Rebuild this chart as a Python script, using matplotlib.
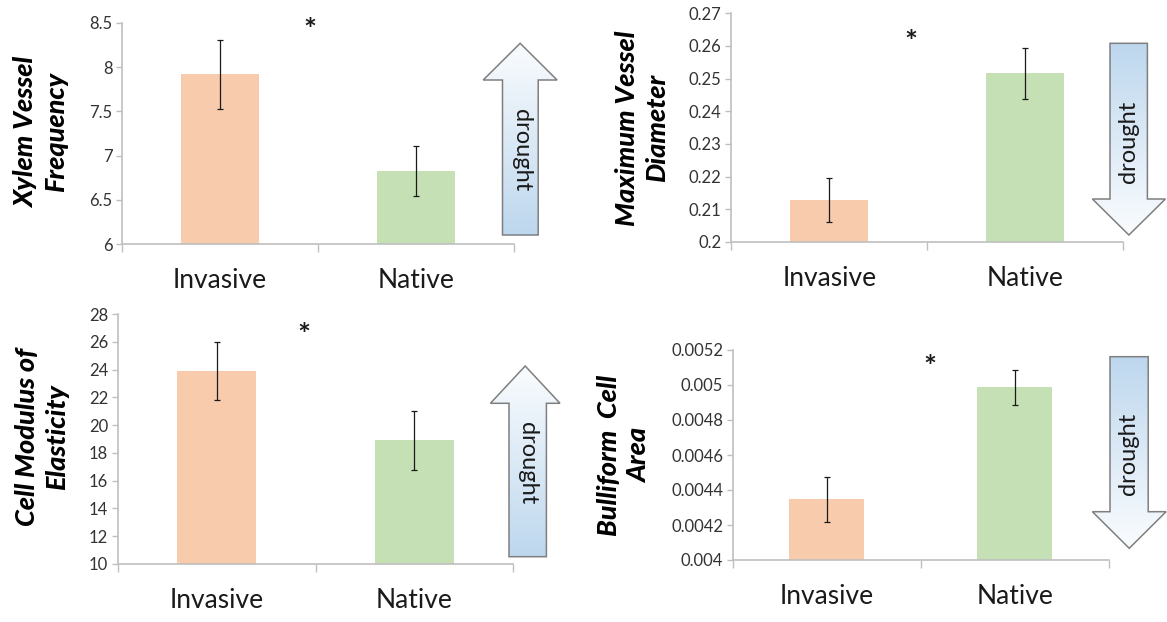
import numpy as np
import matplotlib
matplotlib.use("Agg")
import matplotlib.pyplot as plt
from matplotlib.patches import Polygon
from matplotlib.colors import to_rgb
from matplotlib.transforms import offset_copy

# ---------------- data ----------------
categories = ["Invasive", "Native"]

xylem_freq = [7.92, 6.83]
xylem_freq_err = [0.39, 0.28]
xylem_ticks = [6, 6.5, 7, 7.5, 8, 8.5]
xylem_ticklabels = ["6", "6.5", "7", "7.5", "8", "8.5"]

vessel_diam = [0.2129, 0.2516]
vessel_diam_err = [0.0067, 0.0079]
vessel_ticks = [0.20, 0.21, 0.22, 0.23, 0.24, 0.25, 0.26, 0.27]
vessel_ticklabels = ["0.2", "0.21", "0.22", "0.23", "0.24", "0.25", "0.26", "0.27"]

elastic = [23.9, 18.9]
elastic_err = [2.1, 2.1]
elastic_ticks = [10, 12, 14, 16, 18, 20, 22, 24, 26, 28]
elastic_ticklabels = ["10", "12", "14", "16", "18", "20", "22", "24", "26", "28"]

bulliform = [0.004347, 0.004986]
bulliform_err = [0.000130, 0.000102]
bulliform_ticks = [0.0040, 0.0042, 0.0044, 0.0046, 0.0048, 0.0050, 0.0052]
bulliform_ticklabels = ["0.004", "0.0042", "0.0044", "0.0046", "0.0048", "0.005", "0.0052"]

ylabels = ["Xylem Vessel\nFrequency", "Maximum Vessel\nDiameter",
           "Cell Modulus of\nElasticity", "Bulliform  Cell\nArea"]
arrow_dirs = ["up", "down", "up", "down"]
arrow_text = "drought"

# ---------------- style ----------------
W, H = 1167, 622
FONT = "Lato"
plt.rcParams["font.family"] = [FONT, "DejaVu Sans"]
bar_colors = ["#F8CBAD", "#C5E0B4"]
spine_col = "#BFBFBF"

fig = plt.figure(figsize=(W / 100, H / 100), dpi=100)

def frac(x0, y0, x1, y1):
    return [x0 / W, 1 - y1 / H, (x1 - x0) / W, (y1 - y0) / H]

panels = [
    dict(rect=frac(122.1, 22.7, 514.3, 244.3), vals=xylem_freq, err=xylem_freq_err,
         ticks=xylem_ticks, tl=xylem_ticklabels, star=(0.46, 8.52),
         ylab=(41, 132)),
    dict(rect=frac(731.3, 13.3, 1123.1, 242.0), vals=vessel_diam, err=vessel_diam_err,
         ticks=vessel_ticks, tl=vessel_ticklabels, star=(0.415, 0.2640),
         ylab=(642, 128)),
    dict(rect=frac(117.9, 314.0, 513.2, 564.0), vals=elastic, err=elastic_err,
         ticks=elastic_ticks, tl=elastic_ticklabels, star=(0.44, 27.1),
         ylab=(42, 437)),
    dict(rect=frac(732.8, 350.0, 1108.8, 560.0), vals=bulliform, err=bulliform_err,
         ticks=bulliform_ticks, tl=bulliform_ticklabels, star=(0.546, 0.005150),
         ylab=(624, 455)),
]

for i, p in enumerate(panels):
    ax = fig.add_axes(p["rect"])
    x = np.arange(len(categories))
    ax.bar(x, p["vals"], width=0.4, color=bar_colors, zorder=2)
    ax.errorbar(x, p["vals"], yerr=p["err"], fmt="none", ecolor="#1a1a1a",
                elinewidth=0.9, capsize=2.4, capthick=0.9, zorder=3)
    ax.set_xlim(-0.5, 1.5)
    ax.set_ylim(p["ticks"][0], p["ticks"][-1])
    ax.set_yticks(p["ticks"])
    ax.set_yticklabels(p["tl"], fontsize=12, color="#333333")
    ax.set_xticks(x)
    ax.set_xticklabels(categories, fontsize=19, color="#1a1a1a")
    ax.set_xticks([-0.5, 0.5, 1.5], minor=True)
    ax.tick_params(axis="x", which="major", length=0, pad=17)
    ax.tick_params(axis="x", which="minor", length=6, width=1, color=spine_col, direction="out")
    ax.tick_params(axis="y", which="major", length=4, width=1, color=spine_col, pad=3)
    for s in ["top", "right"]:
        ax.spines[s].set_visible(False)
    for s in ["left", "bottom"]:
        ax.spines[s].set_color(spine_col)
        ax.spines[s].set_linewidth(1.2)
    ax.patch.set_alpha(0)
    star_tr = offset_copy(ax.transData, fig=fig, x=0, y=-7, units="points")
    ax.text(p["star"][0], p["star"][1], "*", fontsize=22, fontweight="bold",
            ha="center", va="center", color="#1a1a1a", clip_on=False, transform=star_tr)

# overlay for arrows and y labels, in pixel coordinates
ov = fig.add_axes([0, 0, 1, 1])
ov.set_xlim(0, W)
ov.set_ylim(H, 0)
ov.axis("off")
ov.patch.set_alpha(0)

for i, p in enumerate(panels):
    ov.text(p["ylab"][0], p["ylab"][1], ylabels[i], rotation=90, ha="center", va="center",
            multialignment="center", fontsize=19.5, fontweight="black", fontstyle="italic",
            color="#000000", linespacing=1.3)

# arrow geometry (pixels): head x0, x1, shaft x0, x1, tip y, head base y, tail y, text center
arrows = [
    dict(hx=(483.2, 557.1), sx=(502.5, 538.2), tip=43.3, base=80.0, tail=235.0, txt=(521, 150)),
    dict(hx=(1092.4, 1165.4), sx=(1110.0, 1147.4), tip=235.0, base=199.0, tail=43.3, txt=(1128.5, 142)),
    dict(hx=(490.4, 560.0), sx=(509.0, 546.4), tip=366.0, base=403.3, tail=556.7, txt=(527.5, 463)),
    dict(hx=(1092.4, 1166.1), sx=(1110.0, 1148.2), tip=548.3, base=511.7, tail=356.7, txt=(1129, 454)),
]
blue = np.array(to_rgb("#BDD7EE"))
white = np.array(to_rgb("#FAFCFE"))

for a, d in zip(arrows, arrow_dirs):
    hx0, hx1 = a["hx"]
    sx0, sx1 = a["sx"]
    cx = (hx0 + hx1) / 2
    verts = [(cx, a["tip"]), (hx1, a["base"]), (sx1, a["base"]), (sx1, a["tail"]),
             (sx0, a["tail"]), (sx0, a["base"]), (hx0, a["base"])]
    poly = Polygon(verts, closed=True, facecolor="none", edgecolor="#7F7F7F",
                   linewidth=1.1, zorder=5)
    ov.add_patch(poly)
    ymin = min(a["tip"], a["tail"])
    ymax = max(a["tip"], a["tail"])
    n = 256
    t = np.linspace(0, 1, n)[:, None]
    if d == "up":
        grad = white * (1 - t) + blue * t   # top white, bottom blue
    else:
        grad = blue * (1 - t) + white * t   # top blue, bottom white
    img = ov.imshow(grad[:, None, :], extent=(hx0, hx1, ymax, ymin), origin="upper",
                    aspect="auto", zorder=4, interpolation="bilinear")
    clip = Polygon(verts, closed=True, transform=ov.transData, facecolor="none", edgecolor="none")
    ov.add_patch(clip)
    img.set_clip_path(clip)
    rot = 270 if d == "up" else 90
    ov.text(a["txt"][0], a["txt"][1], arrow_text, rotation=rot, ha="center", va="center",
            fontsize=17, color="#1a1a1a", zorder=6, rotation_mode="anchor")

ov.set_xlim(0, W)
ov.set_ylim(H, 0)

fig.savefig("out.png", dpi=100)
